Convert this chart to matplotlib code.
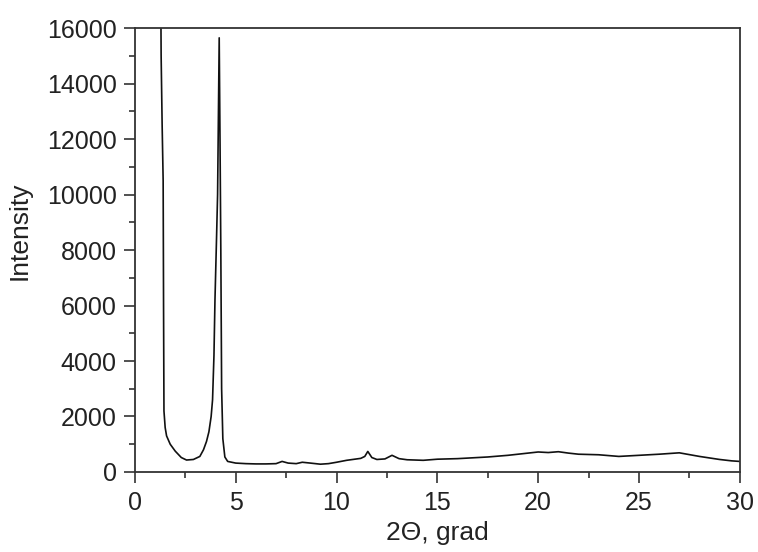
import numpy as np
import matplotlib
matplotlib.use("Agg")
import matplotlib.pyplot as plt
from matplotlib.ticker import MultipleLocator

plt.rcParams["font.family"] = ["Liberation Sans", "DejaVu Sans"]

# diffraction pattern (2theta in degrees, intensity in counts)
two_theta = [1.28, 1.30, 1.35, 1.40, 1.42, 1.44, 1.50, 1.57, 1.75, 2.00, 2.30, 2.56,
             2.90, 3.22, 3.40, 3.55, 3.67, 3.78, 3.85, 3.92, 3.97, 4.05, 4.10, 4.18,
             4.22, 4.26, 4.30, 4.36, 4.46, 4.60, 5.00, 5.50, 6.00, 6.50, 7.00, 7.30,
             7.60, 8.00, 8.30, 8.70, 9.20, 9.60, 10.0, 10.5, 11.2, 11.4, 11.55, 11.75,
             12.0, 12.4, 12.75, 13.1, 13.5, 14.3, 15.0, 16.0, 17.0, 17.5, 18.5, 19.5,
             20.0, 20.5, 21.0, 21.5, 22.0, 23.0, 24.0, 25.0, 26.0, 27.0, 28.0, 29.0,
             29.6, 30.0]
intensity = [17500, 15000, 12500, 10500, 6000, 2200, 1600, 1300, 1000, 750, 520, 430,
             450, 560, 800, 1100, 1450, 2000, 2600, 4200, 6200, 8500, 10000, 15650,
             12000, 8000, 3000, 1200, 540, 380, 320, 300, 290, 290, 300, 380,
             320, 300, 350, 320, 280, 300, 350, 420, 490, 560, 740, 520,
             450, 470, 600, 480, 440, 420, 460, 480, 520, 540, 600, 680,
             720, 700, 730, 680, 640, 620, 560, 600, 640, 690, 560, 450,
             400, 380]

x_major = [0, 5, 10, 15, 20, 25, 30]
y_major = [0, 2000, 4000, 6000, 8000, 10000, 12000, 14000, 16000]

fig = plt.figure(figsize=(7.58, 5.52), dpi=100)
ax = fig.add_axes([0.178, 0.145, 0.798, 0.804])

ax.plot(two_theta, intensity, color="#111111", linewidth=1.2)

ax.set_xlim(0, 30)
ax.set_ylim(0, 16000)
ax.set_xticks(x_major)
ax.set_yticks(y_major)
ax.xaxis.set_minor_locator(MultipleLocator(2.5))
ax.yaxis.set_minor_locator(MultipleLocator(1000))

for sp in ax.spines.values():
    sp.set_color("#333333")
    sp.set_linewidth(1.3)

ax.tick_params(which="major", direction="out", length=8, width=1.2,
               color="#333333", labelsize=18, labelcolor="#222222", pad=5)
ax.tick_params(which="minor", direction="out", length=4, width=1.2, color="#333333")
ax.tick_params(axis="x", which="major", pad=6)

ax.set_xlabel("2Θ, grad", fontsize=19, color="#222222", labelpad=4)
ax.set_ylabel("Intensity", fontsize=19, color="#222222", labelpad=8)
ax.yaxis.set_label_coords(-0.17, 0.543)

fig.savefig("out.png", dpi=100)
